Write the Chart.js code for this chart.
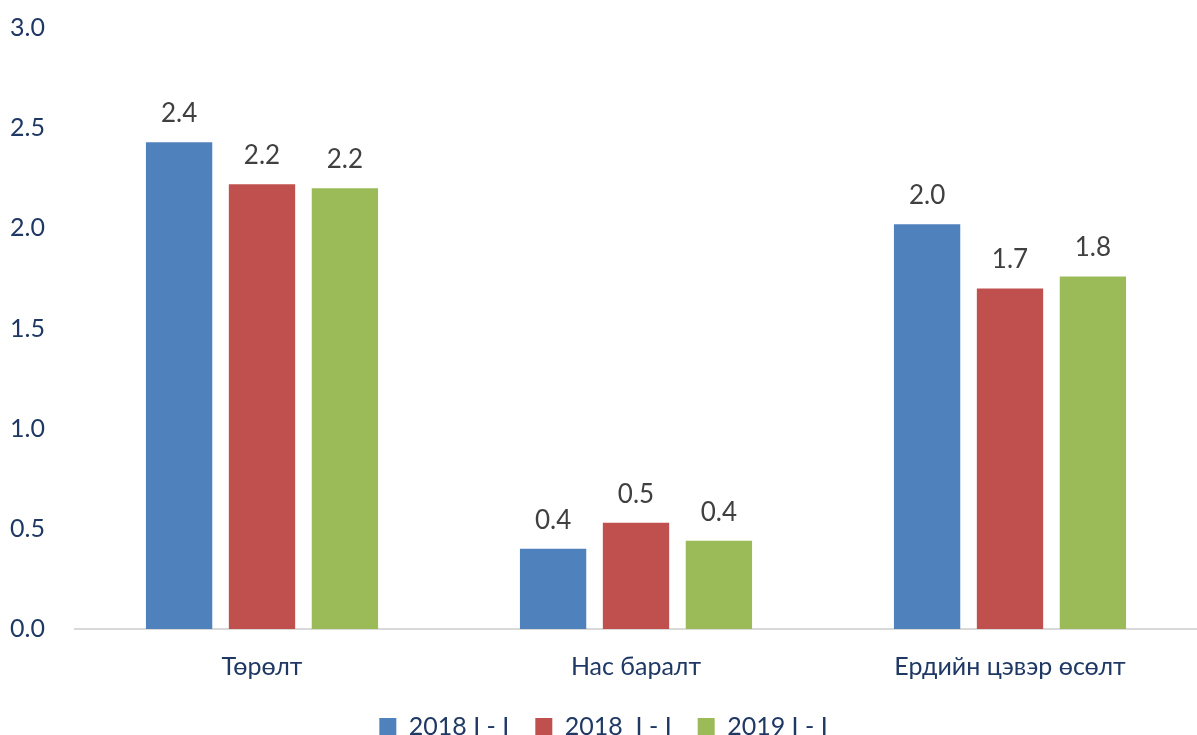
<!DOCTYPE html>
<html>
<head>
<meta charset="utf-8">
<script src="https://cdn.jsdelivr.net/npm/chart.js@4"></script>
<style>
  html, body { margin: 0; padding: 0; background: #fff; }
  #wrap { width: 1197px; height: 735px; }
</style>
</head>
<body>
<div id="wrap"><canvas id="chart"></canvas></div>
<script>
const categories = ['Төрөлт', 'Нас баралт', 'Ердийн цэвэр өсөлт'];
const seriesNames = ['2018 I - I', '2018  I - I', '2019 I - I'];
const values2018a = [2.43, 0.40, 2.02];
const values2018b = [2.22, 0.53, 1.70];
const values2019 = [2.20, 0.44, 1.76];
const yTicks = [0, 0.5, 1.0, 1.5, 2.0, 2.5, 3.0];

const colors = ['#4F81BD', '#C0504D', '#9BBB59'];
const fontFamily = 'Lato, "Open Sans", sans-serif';

// draws the value labels above the bars
const valueLabels = {
    id: 'valueLabels',
    afterDatasetsDraw(chart) {
        const ctx = chart.ctx;
        ctx.save();
        ctx.font = '26px ' + fontFamily;
        ctx.fillStyle = '#404040';
        ctx.textAlign = 'center';
        ctx.textBaseline = 'alphabetic';
        chart.data.datasets.forEach((ds, i) => {
            chart.getDatasetMeta(i).data.forEach((bar, j) => {
                ctx.fillText(ds.data[j].toFixed(1), bar.x, bar.y - 20);
            });
        });
        ctx.restore();
    }
};

const ctx = document.getElementById('chart').getContext('2d');
new Chart(ctx, {
    type: 'bar',
    data: {
        labels: categories,
        datasets: [values2018a, values2018b, values2019].map((d, i) => ({
            label: seriesNames[i],
            data: d,
            backgroundColor: colors[i],
            categoryPercentage: 0.665,
            barPercentage: 0.8,
        }))
    },
    options: {
        responsive: true,
        maintainAspectRatio: false,
        animation: false,
        layout: {
            autoPadding: false,
            padding: { top: 28, right: 0, left: 10, bottom: -14 }
        },
        plugins: {
            legend: {
                position: 'bottom',
                labels: {
                    color: '#1F3864',
                    font: { family: fontFamily, size: 25 },
                    boxWidth: 17,
                    boxHeight: 17,
                    padding: 26,
                }
            },
            tooltip: { enabled: false }
        },
        scales: {
            x: {
                grid: { display: false },
                border: { color: '#D9D9D9', width: 2 },
                ticks: {
                    color: '#1F3864',
                    font: { family: fontFamily, size: 25 },
                    padding: 15,
                },
                afterFit(axis) {
                    axis.height = 59;
                    axis.paddingLeft = 0;
                    axis.paddingRight = 0;
                }
            },
            y: {
                min: 0,
                max: 3,
                afterBuildTicks(axis) {
                    axis.ticks = yTicks.map(v => ({ value: v }));
                },
                grid: { display: false },
                border: { display: false },
                ticks: {
                    color: '#1F3864',
                    font: { family: fontFamily, size: 25 },
                    crossAlign: 'far',
                    padding: 26,
                    callback: v => v.toFixed(1)
                },
                afterFit(axis) {
                    axis.width = 65;
                    axis.paddingTop = 0;
                    axis.paddingBottom = 0;
                }
            }
        }
    },
    plugins: [valueLabels]
});
</script>
</body>
</html>
